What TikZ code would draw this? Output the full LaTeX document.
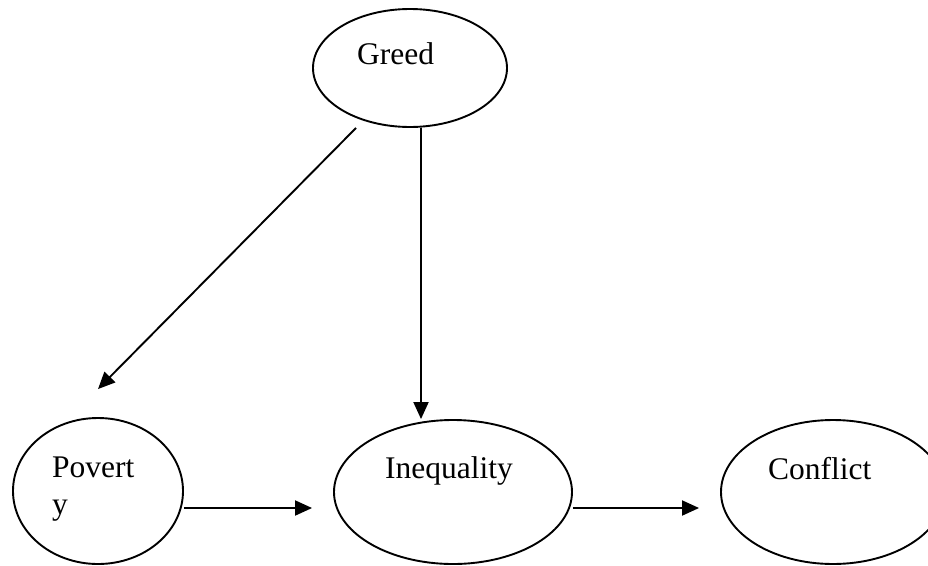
\documentclass[tikz,border=0pt]{standalone}
\usepackage{fontspec}
\setmainfont{Liberation Serif}
\usetikzlibrary{shapes.geometric,arrows.meta}
\begin{document}
\begin{tikzpicture}[x=1pt,y=-1pt,
  oval/.style={draw,ellipse,line width=1.9pt,inner sep=0pt},
  lbl/.style={anchor=base west,inner sep=0pt,font=\fontsize{31.5}{37}\selectfont,align=left},
  conn/.style={line width=1.9pt,-{Triangle[length=17pt,width=15pt]}}]
\useasboundingbox (0,0) rectangle (928,565);
\node[oval,minimum width=194pt,minimum height=118pt] (greed) at (410,68) {};
\node[oval,minimum width=170pt,minimum height=146pt] (pov) at (98,491) {};
\node[oval,minimum width=238pt,minimum height=144pt] (ineq) at (453,492) {};
\node[oval,minimum width=224pt,minimum height=144pt] (conf) at (833,492) {};
\node[lbl] (greedt) at (357,64) {Greed};
\node[lbl] (povt) at (52,514) {Povert\\y};
\node[lbl] (ineqt) at (385,478) {Inequality};
\node[lbl] (conft) at (768,479) {Conflict};
\draw[conn] ([xshift=-54pt]greed.south) -- ([yshift=28pt]pov.north);
\draw[conn] ([xshift=11pt]greed.south) -- ([xshift=-32pt]ineq.north);
\draw[conn,shorten >=21pt] ([yshift=-17pt]pov.east) -- ([yshift=-17pt]pov.east -| ineq.west);
\draw[conn,shorten >=21pt] ([yshift=-16pt]ineq.east) -- ([yshift=-16pt]ineq.east -| conf.west);
\end{tikzpicture}
\end{document}
